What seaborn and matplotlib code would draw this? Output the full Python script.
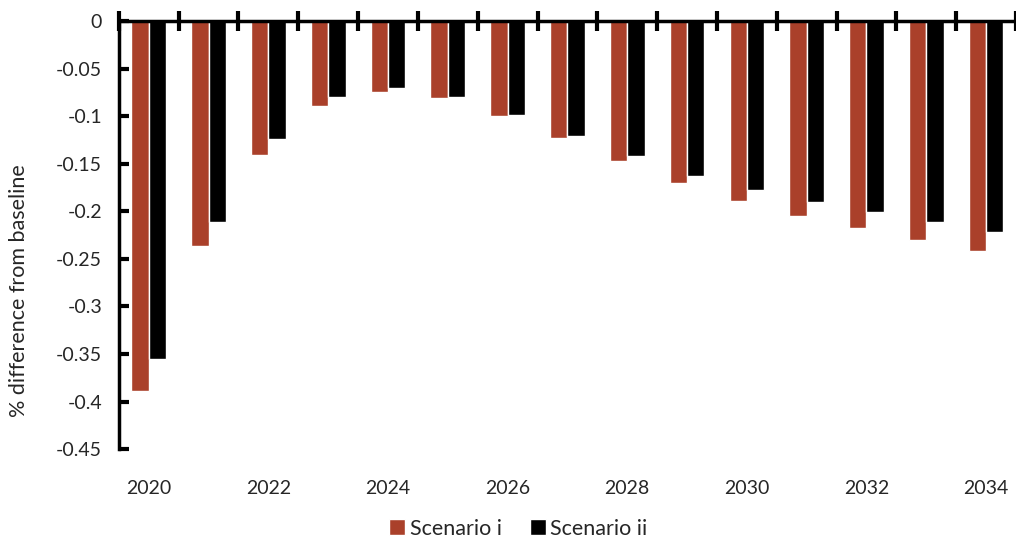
"""
bar chart: % difference from baseline, two scenarios
"""

import pandas as pd
import seaborn as sns
import matplotlib.pyplot as plt
from matplotlib.ticker import FuncFormatter, MultipleLocator

# data
years = list(range(2020, 2035))
scenario_i = [-0.389, -0.236, -0.141, -0.089, -0.075, -0.081, -0.100, -0.123,
              -0.147, -0.170, -0.189, -0.205, -0.218, -0.230, -0.242]
scenario_ii = [-0.355, -0.211, -0.124, -0.080, -0.070, -0.080, -0.099, -0.121,
               -0.142, -0.163, -0.178, -0.190, -0.201, -0.211, -0.222]
series_names = ['Scenario i', 'Scenario ii']
colors = ['#AA402A', '#000000']

df = pd.DataFrame({'Year': years * 2,
                   'Value': scenario_i + scenario_ii,
                   'Series': [series_names[0]] * len(years) + [series_names[1]] * len(years)})

sns.set_theme(style='white')
plt.rcParams['font.family'] = ['Lato', 'DejaVu Sans']

fig = plt.figure(figsize=(10.16, 5.43), dpi=100)
ax = fig.add_axes([0.117, 0.173, 0.883, 0.788])

sns.barplot(data=df, x='Year', y='Value', hue='Series', palette=colors,
            width=0.58, saturation=1, ax=ax, legend=True)

ax.set_xlim(-0.5, 14.5)
ax.set_ylim(-0.45, 0)

# spines: zero line on top and left axis only
for side in ['right', 'bottom']:
    ax.spines[side].set_visible(False)
for side in ['top', 'left']:
    ax.spines[side].set_visible(True)
    ax.spines[side].set_linewidth(2.5)
    ax.spines[side].set_color('black')

# x labels at every other year, category boundary ticks on the zero line
ax.set_xticks(range(0, 15, 2))
ax.set_xticklabels([str(y) for y in years[::2]])
ax.set_xticks([i - 0.5 for i in range(16)], minor=True)
ax.tick_params(axis='x', which='major', bottom=False, top=False, labelbottom=True,
               labelsize=14, pad=16)
ax.tick_params(axis='x', which='minor', bottom=False, top=True, direction='inout',
               length=14, width=3, color='black')

ax.yaxis.set_major_locator(MultipleLocator(0.05))
ax.yaxis.set_major_formatter(FuncFormatter(lambda v, p: '0' if abs(v) < 1e-9 else f'{v:g}'))
ax.tick_params(axis='y', left=True, direction='in', length=7, width=3,
               labelsize=14, pad=12, color='black')

ax.set_xlabel('')
ax.set_ylabel('% difference from baseline', fontsize=15.5)
ax.yaxis.set_label_coords(-0.1, 0.37)

ax.get_legend().remove()
handles, labels = ax.get_legend_handles_labels()
fig.legend(handles, labels, loc='center', bbox_to_anchor=(0.51, 0.026), ncol=2,
           frameon=False, fontsize=15.5, handlelength=0.75, handleheight=0.75,
           handletextpad=0.2, columnspacing=1.3)

fig.savefig('out.png', dpi=100)
